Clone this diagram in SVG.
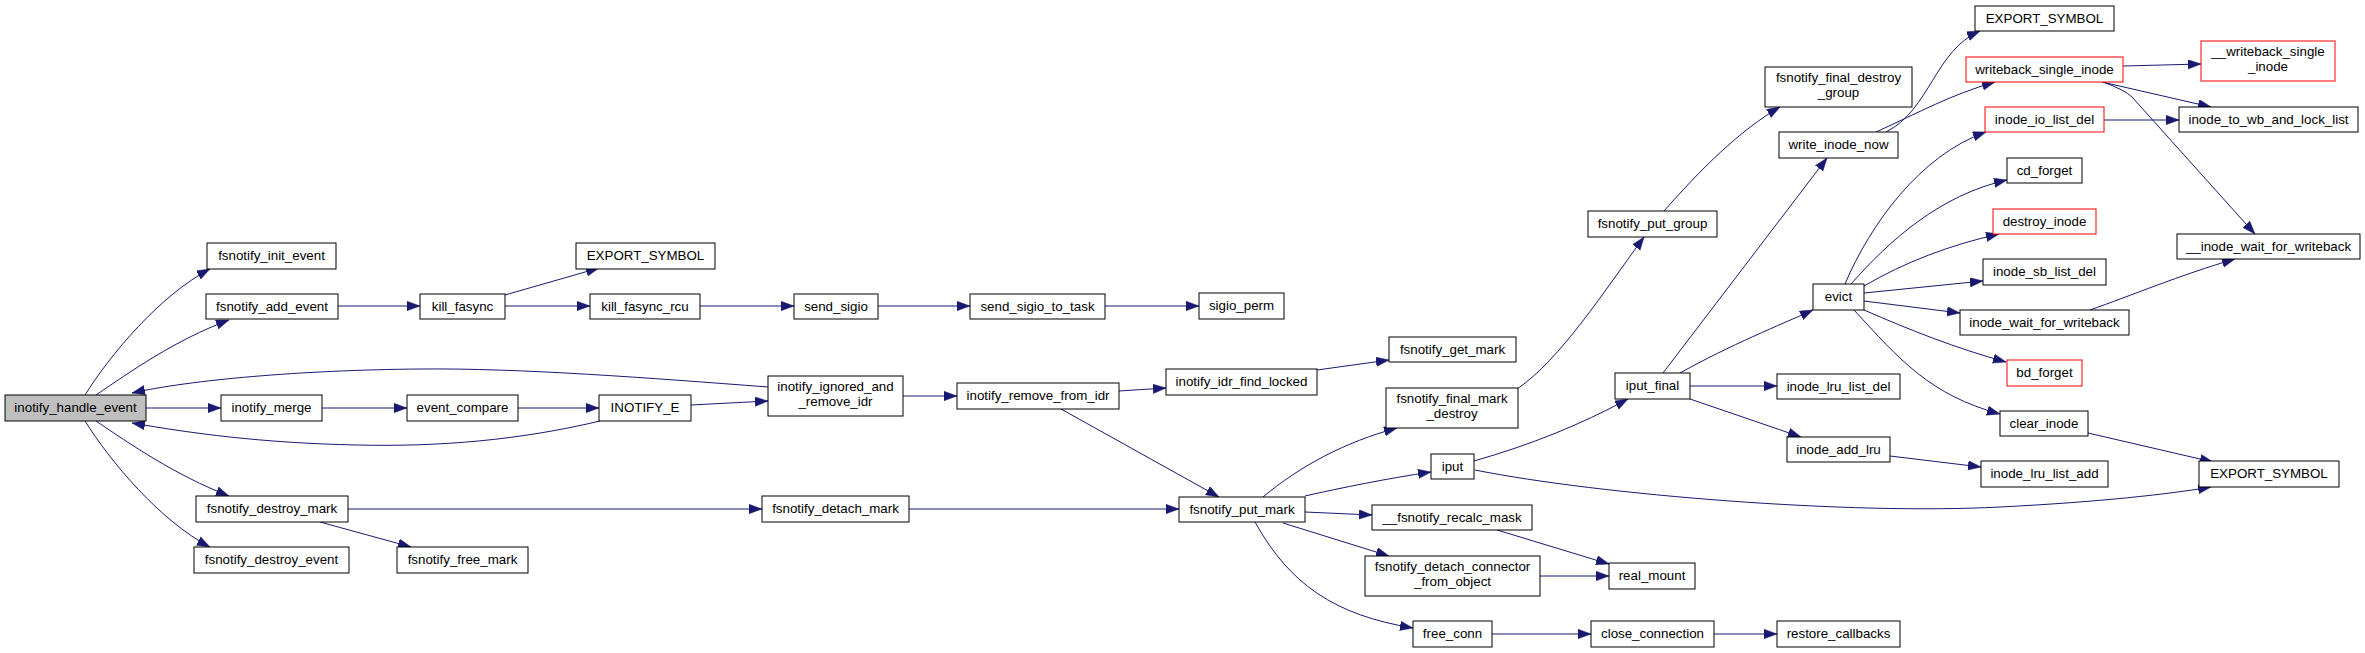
<svg xmlns="http://www.w3.org/2000/svg" width="2365" height="653" viewBox="0 0 2365 653">
<style>
.node rect{fill:#ffffff;stroke:#000000;stroke-width:1}
.root rect{fill:#bfbfbf}
.red rect{stroke:#ff0000}
.node text{font-family:"Liberation Sans",Arial,Helvetica,sans-serif;font-size:13.33px;text-anchor:middle;fill:#000}
.edges path{fill:none;stroke:#191970;stroke-width:1;marker-end:url(#arr)}
</style>
<defs>
<marker id="arr" markerUnits="userSpaceOnUse" markerWidth="14" markerHeight="10" refX="13" refY="4.7" orient="auto" viewBox="0 0 14 10">
<path d="M0,0 L13,4.7 L0,9.4 z" fill="#191970" stroke="#191970" stroke-width="0.5"/>
</marker>
</defs>
<rect width="2365" height="653" fill="#ffffff"/>
<g id="edges" class="edges">
<path d="M85,395 C110,355 160,295 210,269"/>
<path d="M96,395 C130,372 175,340 229,320"/>
<path d="M146,408 L221,408"/>
<path d="M96,421 C130,444 175,475 229,496"/>
<path d="M85,421 C110,461 160,521 210,547"/>
<path d="M768,387 C650,378 520,368 421,369 C300,370 190,380 132,393"/>
<path d="M600,421 C520,440 440,447 357,445 C260,443 190,433 132,423"/>
<path d="M338,306 L420,306"/>
<path d="M505,295 L599,268"/>
<path d="M505,306 L590,306"/>
<path d="M700,306 L794,306"/>
<path d="M878,306 L970,306"/>
<path d="M1105,306 L1199,306"/>
<path d="M322,408 L407,408"/>
<path d="M518,408 L599,408"/>
<path d="M691,405 L768,401"/>
<path d="M903,396 L957,396"/>
<path d="M1119,391 L1166,388"/>
<path d="M1317,370 L1389,360"/>
<path d="M1061,409 L1219,497"/>
<path d="M348,509 L762,509"/>
<path d="M320,522 L411,547"/>
<path d="M909,509 L1179,509"/>
<path d="M1263,497 C1300,466 1345,442 1397,428"/>
<path d="M1305,496 C1340,488 1390,478 1431,472"/>
<path d="M1305,512 L1372,515"/>
<path d="M1283,523 L1389,556"/>
<path d="M1255,522 C1290,585 1335,615 1413,628"/>
<path d="M1517,389 C1560,360 1605,290 1644,237"/>
<path d="M1664,211 C1700,170 1740,130 1780,107"/>
<path d="M1474,461 C1530,445 1580,425 1628,399"/>
<path d="M1475,470 C1600,495 1850,515 2000,507 C2100,502 2170,494 2211,487"/>
<path d="M1663,373 L1827,158"/>
<path d="M1680,373 C1730,345 1780,325 1813,310"/>
<path d="M1690,386 L1777,386"/>
<path d="M1690,399 L1801,437"/>
<path d="M1890,456 L1981,467"/>
<path d="M1886,132 C1930,110 1935,50 1980,31"/>
<path d="M1876,132 C1920,112 1950,95 1995,82"/>
<path d="M2123,66 L2201,64"/>
<path d="M2102,82 L2211,107"/>
<path d="M2103,82 Q2125,90 2132,97 L2255,234"/>
<path d="M2104,120 L2179,120"/>
<path d="M1845,284 C1870,225 1920,155 1986,132"/>
<path d="M1851,284 C1890,240 1940,195 2007,180"/>
<path d="M1864,286 C1905,262 1950,245 1999,234"/>
<path d="M1864,293 L1983,281"/>
<path d="M1864,301 L1960,313"/>
<path d="M1864,310 C1910,330 1955,348 2006,362"/>
<path d="M1854,310 C1900,360 1930,395 2000,414"/>
<path d="M2090,310 C2130,296 2180,275 2235,259"/>
<path d="M2088,433 L2213,462"/>
<path d="M1497,530 L1609,564"/>
<path d="M1540,576 L1609,576"/>
<path d="M1492,634 L1591,634"/>
<path d="M1714,634 L1777,634"/>
</g>
<g id="n0" class="node root"><rect x="5" y="395" width="141" height="26"/><text x="75.5" y="412">inotify_handle_event</text></g>
<g id="n1" class="node"><rect x="207" y="243" width="129" height="26"/><text x="271.5" y="260">fsnotify_init_event</text></g>
<g id="n2" class="node"><rect x="206" y="294" width="132" height="25"/><text x="272" y="311">fsnotify_add_event</text></g>
<g id="n3" class="node"><rect x="221" y="395" width="101" height="26"/><text x="271.5" y="412">inotify_merge</text></g>
<g id="n4" class="node"><rect x="196" y="496" width="152" height="26"/><text x="272" y="513">fsnotify_destroy_mark</text></g>
<g id="n5" class="node"><rect x="194" y="547" width="155" height="26"/><text x="271.5" y="564">fsnotify_destroy_event</text></g>
<g id="n6" class="node"><rect x="420" y="294" width="85" height="25"/><text x="462.5" y="311">kill_fasync</text></g>
<g id="n7" class="node"><rect x="407" y="395" width="111" height="26"/><text x="462.5" y="412">event_compare</text></g>
<g id="n8" class="node"><rect x="397" y="547" width="131" height="26"/><text x="462.5" y="564">fsnotify_free_mark</text></g>
<g id="n9" class="node"><rect x="576" y="243" width="139" height="26"/><text x="645.5" y="260">EXPORT_SYMBOL</text></g>
<g id="n10" class="node"><rect x="590" y="294" width="110" height="25"/><text x="645" y="311">kill_fasync_rcu</text></g>
<g id="n11" class="node"><rect x="599" y="395" width="92" height="26"/><text x="645" y="412">INOTIFY_E</text></g>
<g id="n12" class="node"><rect x="794" y="294" width="84" height="25"/><text x="836" y="311">send_sigio</text></g>
<g id="n13" class="node"><rect x="768" y="376" width="135" height="40"/><text x="835.5" y="391">inotify_ignored_and</text><text x="835.5" y="406">_remove_idr</text></g>
<g id="n14" class="node"><rect x="762" y="496" width="147" height="26"/><text x="835.5" y="513">fsnotify_detach_mark</text></g>
<g id="n15" class="node"><rect x="970" y="294" width="135" height="25"/><text x="1037.5" y="311">send_sigio_to_task</text></g>
<g id="n16" class="node"><rect x="957" y="383" width="162" height="26"/><text x="1038" y="400">inotify_remove_from_idr</text></g>
<g id="n17" class="node"><rect x="1199" y="293" width="85" height="26"/><text x="1241.5" y="310">sigio_perm</text></g>
<g id="n18" class="node"><rect x="1166" y="369" width="151" height="26"/><text x="1241.5" y="386">inotify_idr_find_locked</text></g>
<g id="n19" class="node"><rect x="1179" y="497" width="126" height="25"/><text x="1242" y="514">fsnotify_put_mark</text></g>
<g id="n20" class="node"><rect x="1389" y="337" width="127" height="25"/><text x="1452.5" y="354">fsnotify_get_mark</text></g>
<g id="n21" class="node"><rect x="1386" y="388" width="132" height="40"/><text x="1452" y="403">fsnotify_final_mark</text><text x="1452" y="418">_destroy</text></g>
<g id="n22" class="node"><rect x="1431" y="454" width="43" height="25"/><text x="1452.5" y="471">iput</text></g>
<g id="n23" class="node"><rect x="1372" y="505" width="160" height="25"/><text x="1452" y="522">__fsnotify_recalc_mask</text></g>
<g id="n24" class="node"><rect x="1365" y="556" width="175" height="40"/><text x="1452.5" y="571">fsnotify_detach_connector</text><text x="1452.5" y="586">_from_object</text></g>
<g id="n25" class="node"><rect x="1413" y="621" width="79" height="26"/><text x="1452.5" y="638">free_conn</text></g>
<g id="n26" class="node"><rect x="1588" y="211" width="129" height="26"/><text x="1652.5" y="228">fsnotify_put_group</text></g>
<g id="n27" class="node"><rect x="1615" y="373" width="75" height="26"/><text x="1652.5" y="390">iput_final</text></g>
<g id="n28" class="node"><rect x="1609" y="563" width="86" height="26"/><text x="1652" y="580">real_mount</text></g>
<g id="n29" class="node"><rect x="1591" y="621" width="123" height="26"/><text x="1652.5" y="638">close_connection</text></g>
<g id="n30" class="node"><rect x="1765" y="67" width="147" height="40"/><text x="1838.5" y="82">fsnotify_final_destroy</text><text x="1838.5" y="97">_group</text></g>
<g id="n31" class="node"><rect x="1779" y="132" width="119" height="26"/><text x="1838.5" y="149">write_inode_now</text></g>
<g id="n32" class="node"><rect x="1813" y="284" width="51" height="26"/><text x="1838.5" y="301">evict</text></g>
<g id="n33" class="node"><rect x="1777" y="374" width="123" height="25"/><text x="1838.5" y="391">inode_lru_list_del</text></g>
<g id="n34" class="node"><rect x="1787" y="437" width="103" height="25"/><text x="1838.5" y="454">inode_add_lru</text></g>
<g id="n35" class="node"><rect x="1777" y="621" width="123" height="26"/><text x="1838.5" y="638">restore_callbacks</text></g>
<g id="n36" class="node"><rect x="1975" y="6" width="139" height="25"/><text x="2044.5" y="23">EXPORT_SYMBOL</text></g>
<g id="n37" class="node red"><rect x="1966" y="57" width="157" height="25"/><text x="2044.5" y="74">writeback_single_inode</text></g>
<g id="n38" class="node red"><rect x="1985" y="107" width="119" height="25"/><text x="2044.5" y="124">inode_io_list_del</text></g>
<g id="n39" class="node"><rect x="2007" y="158" width="75" height="25"/><text x="2044.5" y="175">cd_forget</text></g>
<g id="n40" class="node red"><rect x="1993" y="209" width="103" height="25"/><text x="2044.5" y="226">destroy_inode</text></g>
<g id="n41" class="node"><rect x="1983" y="259" width="123" height="26"/><text x="2044.5" y="276">inode_sb_list_del</text></g>
<g id="n42" class="node"><rect x="1960" y="310" width="169" height="25"/><text x="2044.5" y="327">inode_wait_for_writeback</text></g>
<g id="n43" class="node red"><rect x="2007" y="360" width="75" height="26"/><text x="2044.5" y="377">bd_forget</text></g>
<g id="n44" class="node"><rect x="2000" y="411" width="88" height="25"/><text x="2044" y="428">clear_inode</text></g>
<g id="n45" class="node"><rect x="1981" y="461" width="127" height="26"/><text x="2044.5" y="478">inode_lru_list_add</text></g>
<g id="n46" class="node red"><rect x="2201" y="41" width="134" height="40"/><text x="2268" y="56">__writeback_single</text><text x="2268" y="71">_inode</text></g>
<g id="n47" class="node"><rect x="2179" y="107" width="179" height="25"/><text x="2268.5" y="124">inode_to_wb_and_lock_list</text></g>
<g id="n48" class="node"><rect x="2177" y="234" width="183" height="25"/><text x="2268.5" y="251">__inode_wait_for_writeback</text></g>
<g id="n49" class="node"><rect x="2199" y="461" width="140" height="26"/><text x="2269" y="478">EXPORT_SYMBOL</text></g>
</svg>
